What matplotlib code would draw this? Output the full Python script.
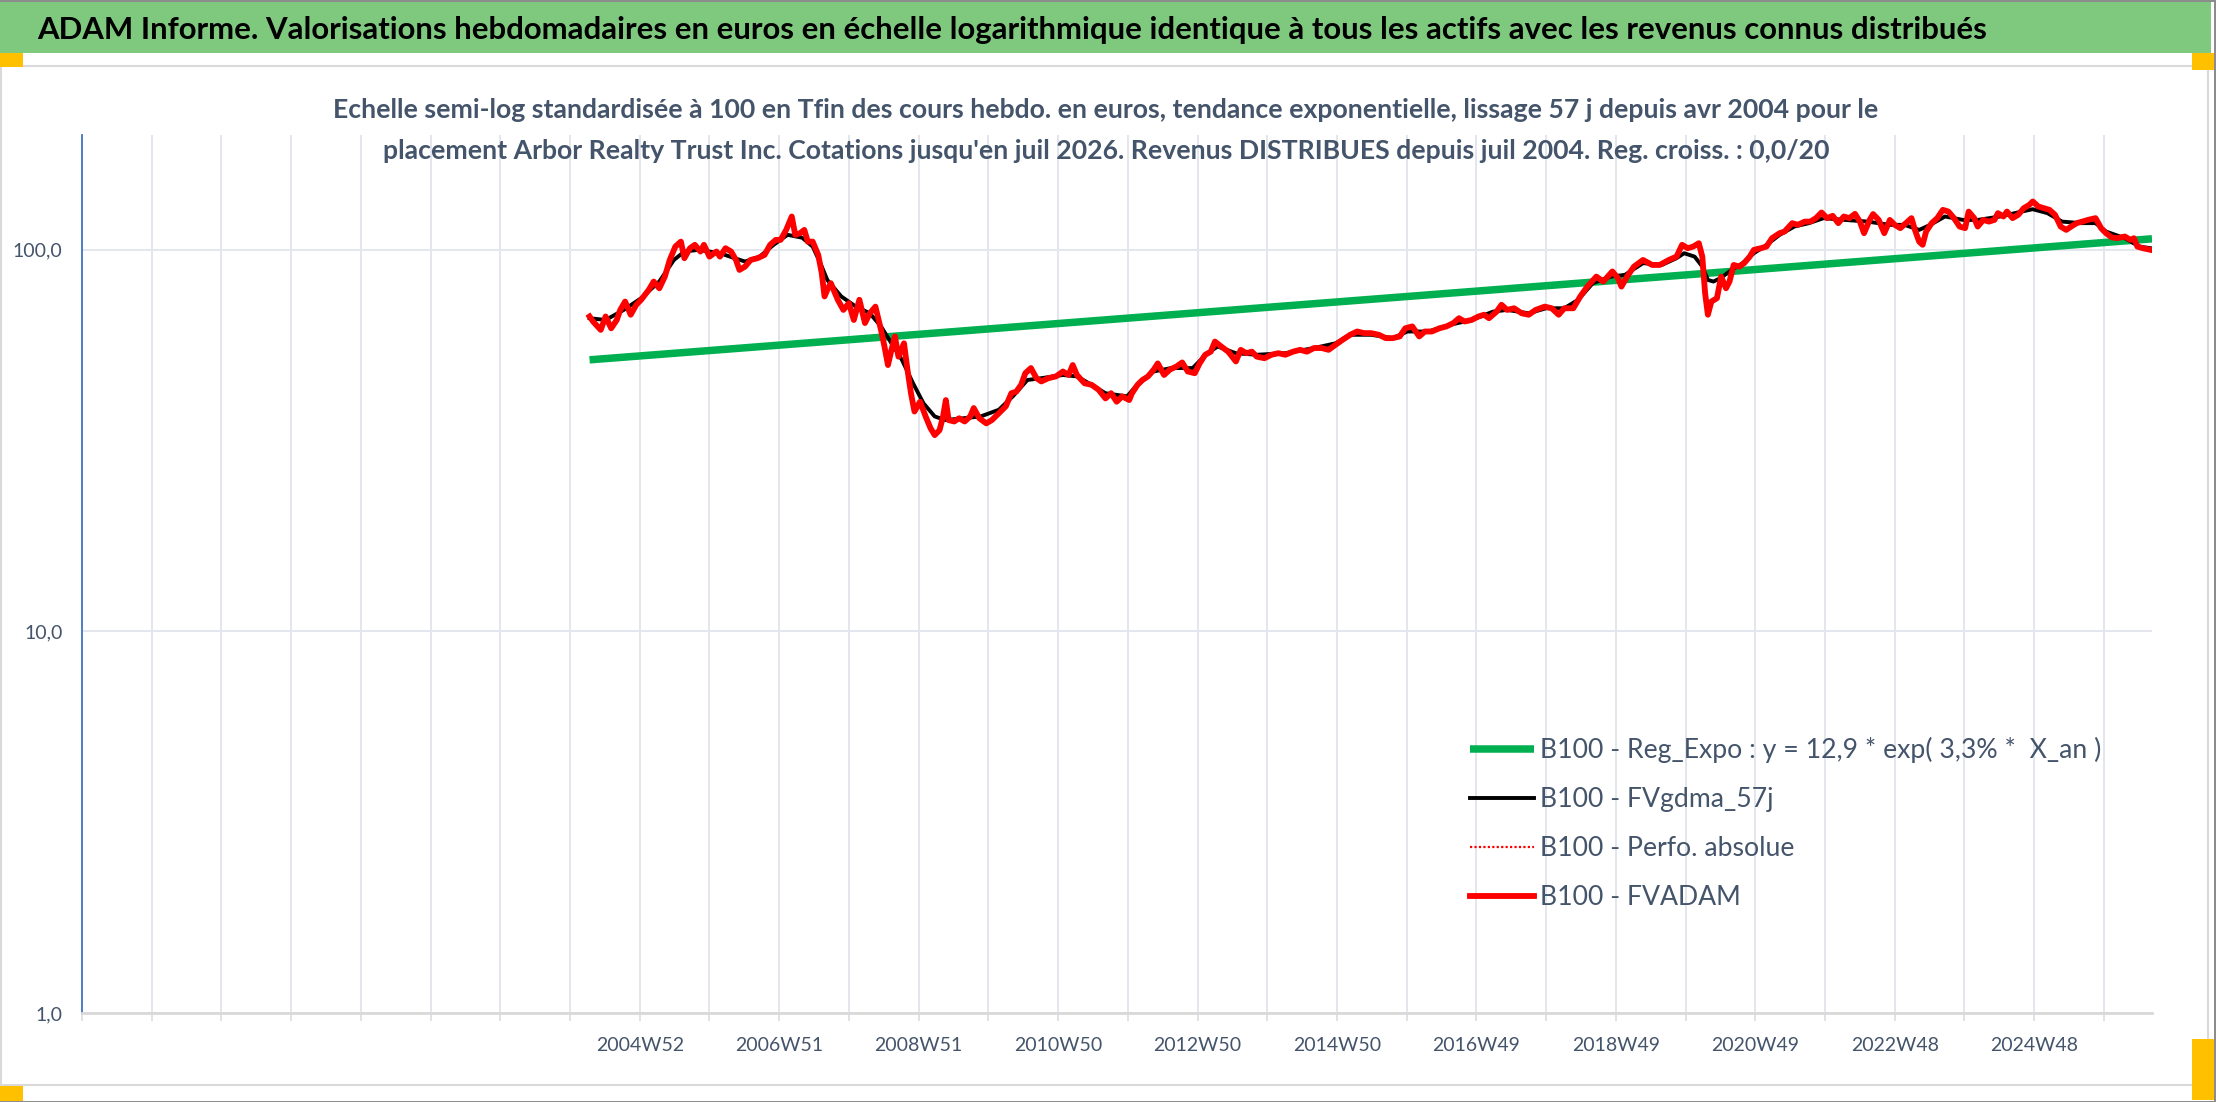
import matplotlib
matplotlib.use("Agg")
import matplotlib.pyplot as plt
from matplotlib.patches import Rectangle
import matplotlib.ticker as mticker

plt.rcParams['font.family'] = ['Lato', 'DejaVu Sans']

# ---------------- data ----------------
title_text = ("ADAM Informe. Valorisations hebdomadaires en euros en échelle logarithmique "
              "identique à tous les actifs avec les revenus connus distribués")
subtitle_1 = ("Echelle semi-log standardisée à 100 en Tfin des cours hebdo. en euros, tendance "
              "exponentielle, lissage 57 j depuis avr 2004 pour le")
subtitle_2 = ("placement Arbor Realty Trust Inc. Cotations jusqu'en juil 2026. Revenus DISTRIBUES "
              "depuis juil 2004. Reg. croiss. : 0,0/20")

legend_labels = ["B100 - Reg_Expo : y = 12,9 * exp( 3,3% *  X_an )",
                 "B100 - FVgdma_57j",
                 "B100 - Perfo. absolue",
                 "B100 - FVADAM"]

x_grid_years = list(range(1997, 2027))
x_label_pos = [2005, 2007, 2009, 2011, 2013, 2015, 2017, 2019, 2021, 2023, 2025]
x_labels = ["2004W52", "2006W51", "2008W51", "2010W50", "2012W50", "2014W50",
            "2016W49", "2018W49", "2020W49", "2022W48", "2024W48"]
y_ticks = [1, 10, 100]
y_labels = ["1,0", "10,0", "100,0"]

reg_years = [2004.28, 2026.69]
reg_values = [51.5, 106.9]

adam_years = [
    2004.28, 2004.33, 2004.44, 2004.51, 2004.59, 2004.67, 2004.72, 2004.79, 2004.87, 2004.95,
    2005.02, 2005.13, 2005.20, 2005.28, 2005.36, 2005.43, 2005.51, 2005.59, 2005.64, 2005.72,
    2005.79, 2005.87, 2005.92, 2006.00, 2006.10, 2006.15, 2006.23, 2006.31, 2006.38, 2006.43,
    2006.51, 2006.59, 2006.69, 2006.79, 2006.87, 2006.95, 2007.02, 2007.10, 2007.18, 2007.23,
    2007.30, 2007.36, 2007.41, 2007.48, 2007.56, 2007.61, 2007.65, 2007.69, 2007.74, 2007.79,
    2007.84, 2007.92, 2008.00, 2008.07, 2008.15, 2008.23, 2008.30, 2008.38, 2008.46, 2008.51,
    2008.56, 2008.61, 2008.66, 2008.71, 2008.79, 2008.84, 2008.89, 2008.94, 2009.02, 2009.10,
    2009.17, 2009.23, 2009.30, 2009.35, 2009.39, 2009.43, 2009.51, 2009.58, 2009.66, 2009.74,
    2009.79, 2009.87, 2009.97, 2010.05, 2010.15, 2010.25, 2010.33, 2010.40, 2010.47, 2010.53,
    2010.61, 2010.69, 2010.76, 2010.86, 2010.97, 2011.07, 2011.15, 2011.21, 2011.27, 2011.38,
    2011.48, 2011.58, 2011.68, 2011.76, 2011.84, 2011.92, 2012.02, 2012.06, 2012.14, 2012.21,
    2012.29, 2012.37, 2012.43, 2012.52, 2012.60, 2012.70, 2012.78, 2012.86, 2012.96, 2013.03,
    2013.11, 2013.19, 2013.25, 2013.34, 2013.44, 2013.55, 2013.62, 2013.70, 2013.78, 2013.85,
    2013.96, 2014.06, 2014.16, 2014.26, 2014.37, 2014.47, 2014.57, 2014.67, 2014.78, 2014.88,
    2014.98, 2015.08, 2015.19, 2015.29, 2015.39, 2015.49, 2015.60, 2015.70, 2015.80, 2015.90,
    2015.98, 2016.08, 2016.18, 2016.26, 2016.36, 2016.47, 2016.57, 2016.67, 2016.75, 2016.83,
    2016.93, 2017.03, 2017.11, 2017.18, 2017.29, 2017.36, 2017.44, 2017.54, 2017.65, 2017.75,
    2017.85, 2017.98, 2018.08, 2018.18, 2018.26, 2018.39, 2018.49, 2018.59, 2018.72, 2018.82,
    2018.95, 2019.03, 2019.08, 2019.16, 2019.26, 2019.39, 2019.52, 2019.63, 2019.76, 2019.87,
    2019.95, 2020.03, 2020.11, 2020.19, 2020.24, 2020.28, 2020.32, 2020.37, 2020.45, 2020.51,
    2020.58, 2020.63, 2020.69, 2020.77, 2020.84, 2020.92, 2020.98, 2021.08, 2021.16, 2021.24,
    2021.35, 2021.42, 2021.53, 2021.61, 2021.71, 2021.79, 2021.87, 2021.95, 2022.03, 2022.11,
    2022.19, 2022.27, 2022.35, 2022.43, 2022.50, 2022.56, 2022.64, 2022.69, 2022.77, 2022.85,
    2022.93, 2023.00, 2023.08, 2023.16, 2023.24, 2023.29, 2023.35, 2023.40, 2023.45, 2023.53,
    2023.61, 2023.69, 2023.77, 2023.85, 2023.93, 2024.01, 2024.06, 2024.14, 2024.19, 2024.27,
    2024.35, 2024.43, 2024.48, 2024.56, 2024.61, 2024.69, 2024.77, 2024.85, 2024.93, 2024.98,
    2025.06, 2025.14, 2025.22, 2025.30, 2025.38, 2025.46, 2025.53, 2025.61, 2025.69, 2025.77,
    2025.88, 2025.96, 2026.03, 2026.11, 2026.19, 2026.30, 2026.38, 2026.43, 2026.48, 2026.56,
    2026.67]
adam_values = [
    66.9, 64.9, 61.7, 66.9, 62.3, 65.5, 69.6, 73.2, 67.6, 71.8,
    74.0, 78.6, 82.6, 79.3, 85.1, 94.1, 102.0, 105.1, 95.1, 101.0,
    103.1, 99.0, 103.1, 96.0, 99.0, 96.0, 101.0, 99.0, 94.1, 88.6,
    90.4, 94.1, 95.1, 97.0, 103.1, 106.2, 106.2, 112.8, 122.3, 109.5,
    110.6, 112.8, 105.1, 105.1, 97.0, 86.9, 75.5, 78.6, 81.8, 77.8,
    74.0, 69.6, 72.5, 65.5, 74.0, 64.3, 68.2, 71.0, 61.7, 55.8,
    49.9, 54.7, 59.3, 52.5, 56.9, 48.5, 42.1, 37.7, 40.0, 36.6,
    34.1, 32.7, 33.7, 36.6, 40.4, 35.8, 35.5, 36.2, 35.5, 36.6,
    38.5, 36.2, 35.1, 35.8, 37.3, 38.9, 42.1, 42.5, 44.3, 47.5,
    49.0, 46.1, 45.2, 46.1, 46.6, 48.0, 47.0, 49.9, 47.0, 44.7,
    44.3, 43.0, 40.8, 42.1, 40.0, 41.3, 40.4, 42.1, 44.3, 45.6,
    46.6, 48.5, 50.4, 47.0, 48.5, 49.5, 50.7, 48.0, 47.5, 50.4,
    53.1, 54.1, 57.5, 55.8, 54.1, 51.0, 54.7, 53.6, 54.1, 52.5,
    52.0, 53.1, 53.6, 53.1, 54.1, 54.7, 54.1, 55.3, 55.3, 54.7,
    56.4, 58.1, 59.9, 61.1, 60.5, 60.5, 59.9, 58.7, 58.7, 59.3,
    62.3, 63.0, 59.3, 61.1, 61.1, 62.3, 63.0, 64.3, 66.2, 64.9,
    65.5, 66.9, 67.6, 66.2, 68.9, 71.8, 69.6, 70.3, 68.2, 67.6,
    69.6, 71.0, 70.3, 67.6, 70.3, 70.3, 75.5, 80.1, 85.1, 82.6,
    87.8, 84.3, 80.1, 85.1, 90.4, 94.1, 91.3, 91.3, 94.1, 96.0,
    103.1, 101.0, 102.0, 104.1, 96.0, 77.0, 67.6, 73.2, 74.7, 85.1,
    79.3, 82.6, 91.3, 90.4, 92.3, 96.0, 100.0, 101.0, 102.0, 107.3,
    110.6, 111.7, 117.5, 116.3, 118.6, 118.6, 121.1, 125.3, 121.1, 122.8,
    117.5, 122.3, 121.1, 124.3, 118.6, 110.6, 119.8, 124.1, 119.8, 110.6,
    119.8, 116.3, 114.0, 117.5, 121.1, 112.8, 105.1, 103.1, 111.7, 117.5,
    121.1, 127.3, 126.0, 121.1, 115.1, 114.0, 126.0, 121.1, 115.1, 119.8,
    118.6, 119.8, 124.8, 122.3, 126.0, 121.1, 123.5, 128.6, 131.2, 133.9,
    129.9, 128.6, 127.3, 123.5, 115.1, 112.8, 115.1, 117.5, 118.6, 119.8,
    121.1, 114.0, 110.6, 107.9, 107.3, 108.4, 106.2, 107.3, 102.0, 101.0,
    100.0]
perfo_values = adam_values

gdma_years = [
    2004.28, 2004.51, 2004.77, 2005.02, 2005.28, 2005.49, 2005.64, 2005.84, 2006.15, 2006.36,
    2006.51, 2006.72, 2006.92, 2007.12, 2007.33, 2007.48, 2007.59, 2007.69, 2007.89, 2008.10,
    2008.30, 2008.46, 2008.61, 2008.76, 2008.92, 2009.07, 2009.23, 2009.38, 2009.64, 2009.89,
    2010.15, 2010.35, 2010.56, 2010.76, 2011.07, 2011.27, 2011.48, 2011.68, 2011.99, 2012.11,
    2012.37, 2012.62, 2012.93, 2013.14, 2013.29, 2013.55, 2013.85, 2014.26, 2014.67, 2014.98,
    2015.19, 2015.49, 2015.80, 2016.01, 2016.31, 2016.62, 2016.93, 2017.24, 2017.44, 2017.75,
    2018.00, 2018.26, 2018.46, 2018.67, 2018.93, 2019.13, 2019.39, 2019.66, 2019.87, 2019.98,
    2020.13, 2020.24, 2020.32, 2020.40, 2020.50, 2020.66, 2020.82, 2020.98, 2021.13, 2021.35,
    2021.56, 2021.77, 2021.98, 2022.29, 2022.61, 2022.93, 2023.14, 2023.35, 2023.51, 2023.72,
    2023.98, 2024.19, 2024.51, 2024.82, 2024.98, 2025.19, 2025.40, 2025.67, 2025.88, 2026.03,
    2026.30, 2026.51, 2026.67]
gdma_values = [
    66.2, 65.5, 69.6, 74.7, 82.6, 94.1, 99.0, 100.0, 98.0, 95.1,
    93.2, 96.0, 103.1, 109.5, 107.6, 102.0, 92.3, 83.4, 75.5, 71.0,
    68.2, 63.0, 56.9, 51.5, 44.7, 39.6, 36.6, 35.8, 36.2, 36.6,
    38.1, 41.3, 45.6, 46.1, 47.0, 46.6, 44.3, 42.1, 41.3, 43.8,
    48.0, 49.0, 49.0, 53.6, 55.8, 53.6, 53.1, 53.6, 55.3, 56.9,
    59.9, 59.9, 58.7, 61.1, 61.1, 63.6, 65.5, 68.9, 69.6, 68.2,
    70.3, 70.3, 74.0, 81.8, 85.1, 86.0, 92.3, 91.3, 95.1, 98.0,
    96.0, 90.4, 83.4, 82.6, 84.3, 88.6, 92.3, 98.0, 102.0, 109.5,
    115.1, 117.5, 121.1, 119.8, 118.6, 116.3, 116.3, 112.8, 116.3, 122.3,
    119.8, 119.8, 122.3, 126.0, 127.8, 124.8, 118.6, 117.5, 117.5, 111.7,
    107.3, 102.0, 101.0]

# ---------------- figure ----------------
W, H = 2216, 1102
fig = plt.figure(figsize=(W / 100, H / 100), dpi=100)
fig.patch.set_facecolor('white')
TEXT_COL = '#44546A'


def fx(x):
    return x / W


def fy(y):
    return 1 - y / H


def rect(x0, y0, x1, y1, **kw):
    r = Rectangle((fx(x0), fy(y1)), (x1 - x0) / W, (y1 - y0) / H,
                  transform=fig.transFigure, **kw)
    fig.add_artist(r)
    return r


# frame / header decorations
rect(0, 1, 2211, 53, facecolor='#7FC97F', edgecolor='none', zorder=0)
rect(1, 66, 2208, 1085, facecolor='white', edgecolor='#D9D9D9', lw=1.5, zorder=0)
rect(0, 53, 23, 67, facecolor='#FFC000', edgecolor='none', zorder=1)
rect(2192, 53, 2214, 70, facecolor='#FFC000', edgecolor='none', zorder=1)
rect(0, 1086, 23, 1102, facecolor='#FFC000', edgecolor='none', zorder=1)
rect(2192, 1039, 2214, 1100, facecolor='#FFC000', edgecolor='none', zorder=1)
rect(0, 0, W, 1.5, facecolor='#8C8C8C', edgecolor='none', zorder=2)
rect(2214, 0, W, H, facecolor='#8C8C8C', edgecolor='none', zorder=2)
rect(0, 1100.5, W, H, facecolor='#8C8C8C', edgecolor='none', zorder=2)

renderer = fig.canvas.get_renderer()


def fit_size(text, target_px, weight='normal', base=20.0):
    t = fig.text(0, 0, text, fontsize=base, fontweight=weight)
    w = t.get_window_extent(renderer).width
    t.remove()
    return base * target_px / w


title_fs = fit_size(title_text, 1950, 'bold')
fig.text(fx(37), fy(39), title_text, fontsize=title_fs, fontweight='bold',
         color='black', ha='left', va='baseline', zorder=3)

sub_fs = 0.5 * (fit_size(subtitle_1, 1556, 'bold') + fit_size(subtitle_2, 1436, 'bold'))
fig.text(fx(1106), fy(110), subtitle_1, fontsize=sub_fs, fontweight='bold',
         color=TEXT_COL, ha='center', va='center', zorder=3)
fig.text(fx(1106), fy(151), subtitle_2, fontsize=sub_fs, fontweight='bold',
         color=TEXT_COL, ha='center', va='center', zorder=3)

# ---------------- axes ----------------
ax = fig.add_axes([fx(82), fy(1013), (2152 - 82) / W, (1013 - 135) / H])
ax.set_facecolor('none')
ax.set_yscale('log')
ax.set_ylim(1, 200)
ax.set_xlim(1997, 2026.69)

l_reg, = ax.plot(reg_years, reg_values, color='#00B050', lw=5.4,
                 solid_capstyle='butt', zorder=3)
l_gdma, = ax.plot(gdma_years, gdma_values, color='black', lw=2.8, zorder=4)
l_perfo, = ax.plot(adam_years, perfo_values, color='#FF0000', lw=1.6,
                   ls=(0, (1, 1)), zorder=5)
l_adam, = ax.plot(adam_years, adam_values, color='#FF0000', lw=4.2,
                  solid_joinstyle='round', zorder=6)

label_map = dict(zip(x_label_pos, x_labels))
ax.set_xticks(x_grid_years)
ax.set_xticklabels([label_map.get(y, '') for y in x_grid_years])
ax.set_yticks(y_ticks)
ax.set_yticklabels(y_labels)
ax.yaxis.set_minor_locator(mticker.NullLocator())
ax.xaxis.set_minor_locator(mticker.NullLocator())

ax.grid(True, which='major', axis='both', color='#E3E6EC', lw=1.4, zorder=0)
ax.set_axisbelow(True)
ax.tick_params(axis='y', length=0, pad=14, labelsize=14, labelcolor=TEXT_COL)
ax.tick_params(axis='x', length=6, width=1.2, color='#DADDE3', pad=11,
               labelsize=14, labelcolor=TEXT_COL, direction='out')
for s in ('top', 'right'):
    ax.spines[s].set_visible(False)
ax.spines['left'].set_color('#4472C4')
ax.spines['left'].set_linewidth(1.3)
ax.spines['bottom'].set_color('#D9D9D9')
ax.spines['bottom'].set_linewidth(2.0)

# ---------------- legend ----------------
leg_fs = fit_size(legend_labels[0], 560)
leg_px = leg_fs * 100 / 72
leg = ax.legend([l_reg, l_gdma, l_perfo, l_adam], legend_labels,
                loc='upper left', bbox_to_anchor=(fx(1470), fy(737)),
                bbox_transform=fig.transFigure, frameon=False,
                fontsize=leg_fs, labelcolor=TEXT_COL,
                handlelength=64 / leg_px, handletextpad=6 / leg_px,
                labelspacing=(56 - 1.2 * leg_px) / leg_px,
                borderpad=0, borderaxespad=0)
leg.set_zorder(10)

fig.savefig('out.png', dpi=100)
